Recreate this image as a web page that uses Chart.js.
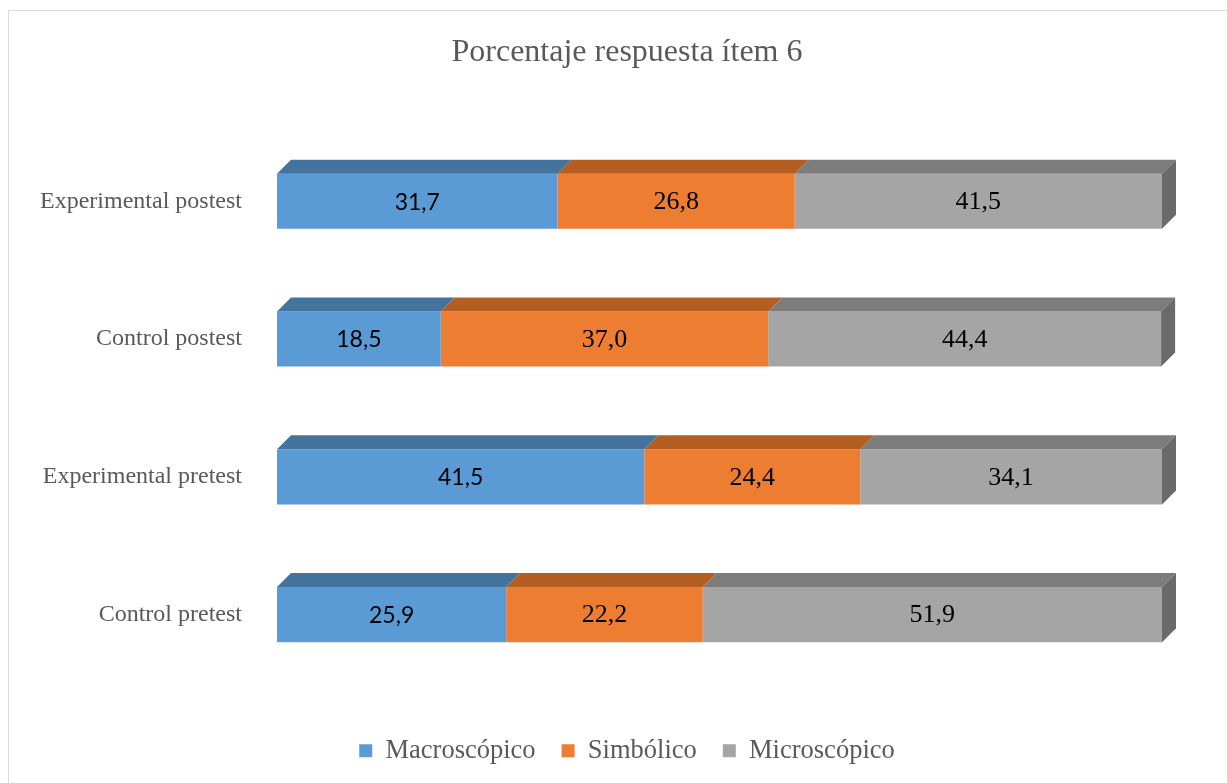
<!DOCTYPE html>
<html>
<head>
<meta charset="utf-8">
<script src="https://cdn.jsdelivr.net/npm/chart.js@4.4.1/dist/chart.umd.min.js"></script>
<style>
  html, body { margin: 0; padding: 0; background: #fff; overflow: hidden; }
  #wrap { position: relative; width: 1227px; height: 783px; }
  #frame { position: absolute; left: 8px; top: 10px; width: 1300px; height: 900px; border: 1px solid #d9d9d9; box-sizing: border-box; pointer-events: none; }
</style>
</head>
<body>
<div id="wrap">
  <canvas id="chart" width="1227" height="783"></canvas>
  <div id="frame"></div>
</div>
<script>
// data
const categories = ['Experimental postest', 'Control postest', 'Experimental pretest', 'Control pretest'];
const macroscopico = [31.7, 18.5, 41.5, 25.9];
const simbolico = [26.8, 37.0, 24.4, 22.2];
const microscopico = [41.5, 44.4, 34.1, 51.9];

const textGray = '#595959';
const serif = 'Liberation Serif';
const sans = 'Lato';

// front / top / side shades for the fake 3D look
const shades = [
    { front: '#5B9BD5', top: '#44739E', side: '#3B6690', labelFamily: sans, labelSize: 23 },
    { front: '#ED7D31', top: '#B55E22', side: '#9E521E', labelFamily: serif, labelSize: 26 },
    { front: '#A5A5A5', top: '#7C7C7C', side: '#6A6A6A', labelFamily: serif, labelSize: 26 }
];

const depth = 14;

const bars3d = {
    id: 'bars3d',
    afterDatasetsDraw(chart) {
        const ctx = chart.ctx;
        const last = chart.data.datasets.length - 1;
        chart.data.datasets.forEach((ds, i) => {
            const meta = chart.getDatasetMeta(i);
            meta.data.forEach((bar) => {
                const p = bar.getProps(['x', 'y', 'base', 'height'], true);
                const left = Math.min(p.base, p.x), right = Math.max(p.base, p.x);
                const top = p.y - p.height / 2, bottom = p.y + p.height / 2;
                ctx.save();
                ctx.fillStyle = shades[i].top;
                ctx.beginPath();
                ctx.moveTo(left, top);
                ctx.lineTo(left + depth, top - depth);
                ctx.lineTo(right + depth, top - depth);
                ctx.lineTo(right, top);
                ctx.closePath();
                ctx.fill();
                if (i === last) {
                    ctx.fillStyle = shades[i].side;
                    ctx.beginPath();
                    ctx.moveTo(right, top);
                    ctx.lineTo(right + depth, top - depth);
                    ctx.lineTo(right + depth, bottom - depth);
                    ctx.lineTo(right, bottom);
                    ctx.closePath();
                    ctx.fill();
                }
                ctx.restore();
            });
        });
        // value labels
        chart.data.datasets.forEach((ds, i) => {
            const meta = chart.getDatasetMeta(i);
            const font = Chart.helpers.toFont({ family: shades[i].labelFamily, size: shades[i].labelSize });
            meta.data.forEach((bar, j) => {
                const p = bar.getProps(['x', 'y', 'base'], true);
                ctx.save();
                ctx.font = font.string;
                ctx.fillStyle = '#000';
                ctx.textAlign = 'center';
                ctx.textBaseline = 'middle';
                ctx.fillText(ds.data[j].toFixed(1).replace('.', ','), (p.x + p.base) / 2, p.y + 1);
                ctx.restore();
            });
        });
    }
};

// empty layout boxes to leave room right of and below the plot area
function spacer(position, size, weight) {
    return {
        position: position,
        weight: weight,
        fullSize: false,
        options: {},
        width: 0,
        height: 0,
        isHorizontal() { return position === 'top' || position === 'bottom'; },
        update(maxWidth, maxHeight) {
            if (this.isHorizontal()) { this.width = maxWidth; this.height = size; }
            else { this.width = size; this.height = maxHeight; }
        },
        draw() {}
    };
}

const spacers = {
    id: 'spacers',
    beforeInit(chart) {
        Chart.layouts.addBox(chart, spacer('right', 65, 0));
        Chart.layouts.addBox(chart, spacer('bottom', 28, 0));
    }
};

const ctx = document.getElementById('chart').getContext('2d');
new Chart(ctx, {
    type: 'bar',
    data: {
        labels: categories,
        datasets: [
            { label: 'Macroscópico', data: macroscopico, backgroundColor: shades[0].front },
            { label: 'Simbólico', data: simbolico, backgroundColor: shades[1].front },
            { label: 'Microscópico', data: microscopico, backgroundColor: shades[2].front }
        ]
    },
    options: {
        indexAxis: 'y',
        responsive: false,
        animation: false,
        barPercentage: 0.4,
        categoryPercentage: 1,
        layout: { padding: { left: 27, right: 0, top: 0, bottom: 9 } },
        scales: {
            x: { stacked: true, min: 0, max: 100, display: false },
            y: {
                stacked: true,
                grid: { display: false, drawTicks: false },
                border: { display: false },
                ticks: {
                    color: textGray,
                    font: { family: serif, size: 24 },
                    padding: 35
                },
                afterFit(scale) { scale.width = 250; }
            }
        },
        plugins: {
            title: {
                display: true,
                text: 'Porcentaje respuesta ítem 6',
                color: textGray,
                font: { family: serif, size: 32, weight: 'normal' },
                padding: { top: 33, bottom: 61 }
            },
            legend: {
                position: 'bottom',
                labels: {
                    color: textGray,
                    font: { family: serif, size: 26.5 },
                    boxWidth: 13,
                    boxHeight: 13,
                    padding: 26
                }
            },
            tooltip: { enabled: false }
        }
    },
    plugins: [spacers, bars3d]
});
</script>
</body>
</html>
